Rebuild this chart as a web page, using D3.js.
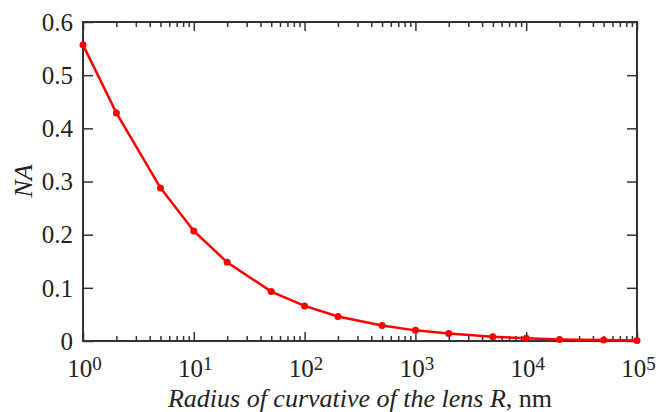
<!DOCTYPE html>
<html>
<head>
<meta charset="utf-8">
<script src="https://cdn.jsdelivr.net/npm/d3@7"></script>
<style>
  body { margin: 0; background: #fff; }
  svg { display: block; }
  .axis path, .axis line { stroke: #333; stroke-width: 1.5; }
</style>
</head>
<body>
<script>
var radius = [1, 2, 5, 10, 20, 50, 100, 200, 500, 1000, 2000, 5000, 10000, 20000, 50000, 100000];
var na = [0.557, 0.429, 0.288, 0.207, 0.148, 0.093, 0.066, 0.046, 0.029, 0.020, 0.014, 0.008, 0.005, 0.003, 0.002, 0.001];
var yTicks = [0, 0.1, 0.2, 0.3, 0.4, 0.5, 0.6];
var xDecades = [0, 1, 2, 3, 4, 5];

var width = 664, height = 412;
var margin = {left: 83, right: 27, top: 22, bottom: 71};
var FONT = "'Liberation Serif', Tinos, serif";
var fontSize = 25;

var svg = d3.select("body").append("svg")
    .attr("width", width)
    .attr("height", height);

var x = d3.scaleLog()
    .domain([1, 1e5])
    .range([margin.left, width - margin.right]);
var y = d3.scaleLinear()
    .domain([0, 0.6])
    .range([height - margin.bottom, margin.top]);

var majorX = xDecades.map(function (e) { return Math.pow(10, e); });
var minorX = [];
for (var e = 0; e < 5; e++) {
    for (var k = 2; k <= 9; k++) minorX.push(k * Math.pow(10, e));
}

function noDomain(g) { g.select(".domain").remove(); }

// minor x ticks, bottom and top
svg.append("g").attr("class", "axis")
    .attr("transform", "translate(0," + y(0) + ")")
    .call(d3.axisBottom(x).tickValues(minorX).tickSizeInner(-5).tickSizeOuter(0).tickFormat(""))
    .call(noDomain);
svg.append("g").attr("class", "axis")
    .attr("transform", "translate(0," + y(0.6) + ")")
    .call(d3.axisTop(x).tickValues(minorX).tickSizeInner(-5).tickSizeOuter(0).tickFormat(""))
    .call(noDomain);

// major x ticks with labels
var xAxis = svg.append("g").attr("class", "axis")
    .attr("transform", "translate(0," + y(0) + ")")
    .call(d3.axisBottom(x).tickValues(majorX).tickSizeInner(-9).tickSizeOuter(0).tickFormat(""))
    .call(noDomain);
xAxis.selectAll(".tick text").remove();
xAxis.selectAll(".tick").append("text")
    .attr("y", 36)
    .attr("x", 1)
    .attr("text-anchor", "middle")
    .attr("fill", "#222")
    .style("font-family", FONT)
    .style("font-size", fontSize + "px")
    .each(function (d) {
        var t = d3.select(this);
        t.append("tspan").text("10");
        t.append("tspan").attr("dy", -7).style("font-size", "19px").text(Math.round(Math.log10(d)));
    });
svg.append("g").attr("class", "axis")
    .attr("transform", "translate(0," + y(0.6) + ")")
    .call(d3.axisTop(x).tickValues(majorX).tickSizeInner(-9).tickSizeOuter(0).tickFormat(""))
    .call(noDomain);

// y axes
var yAxis = svg.append("g").attr("class", "axis")
    .attr("transform", "translate(" + x(1) + ",0)")
    .call(d3.axisLeft(y).tickValues(yTicks).tickSizeInner(-10).tickSizeOuter(0).tickPadding(10)
        .tickFormat(function (d) { return d === 0 ? "0" : d3.format(".1f")(d); }))
    .call(noDomain);
yAxis.selectAll(".tick text")
    .attr("fill", "#222")
    .style("font-family", FONT)
    .style("font-size", fontSize + "px")
    .attr("dy", "0.33em");
svg.append("g").attr("class", "axis")
    .attr("transform", "translate(" + x(1e5) + ",0)")
    .call(d3.axisRight(y).tickValues(yTicks).tickSizeInner(-10).tickSizeOuter(0).tickFormat(""))
    .call(noDomain);

// frame
svg.append("rect")
    .attr("x", x(1))
    .attr("y", y(0.6))
    .attr("width", x(1e5) - x(1))
    .attr("height", y(0) - y(0.6))
    .attr("fill", "none")
    .attr("stroke", "#333")
    .attr("stroke-width", 2);

// data line
var pts = radius.map(function (r, i) { return [r, na[i]]; });
svg.append("path")
    .datum(pts)
    .attr("fill", "none")
    .attr("stroke", "#f00")
    .attr("stroke-width", 2.5)
    .attr("d", d3.line().x(function (d) { return x(d[0]); }).y(function (d) { return y(d[1]); }));
svg.selectAll("circle.pt")
    .data(pts)
    .enter()
    .append("circle")
    .attr("class", "pt")
    .attr("cx", function (d) { return x(d[0]); })
    .attr("cy", function (d) { return y(d[1]); })
    .attr("r", 3.5)
    .attr("fill", "#f00");

// axis titles
var xTitle = svg.append("text")
    .attr("x", (x(1) + x(1e5)) / 2)
    .attr("y", 407)
    .attr("text-anchor", "middle")
    .style("font-family", FONT)
    .style("font-size", "26px")
    .attr("fill", "#222");
xTitle.append("tspan").style("font-style", "italic").text("Radius of curvative of the lens R");
xTitle.append("tspan").text(", nm");

svg.append("text")
    .attr("transform", "translate(32," + 181 + ") rotate(-90)")
    .attr("text-anchor", "middle")
    .style("font-family", FONT)
    .style("font-size", "26px")
    .style("font-style", "italic")
    .attr("fill", "#222")
    .text("NA");
</script>
</body>
</html>
